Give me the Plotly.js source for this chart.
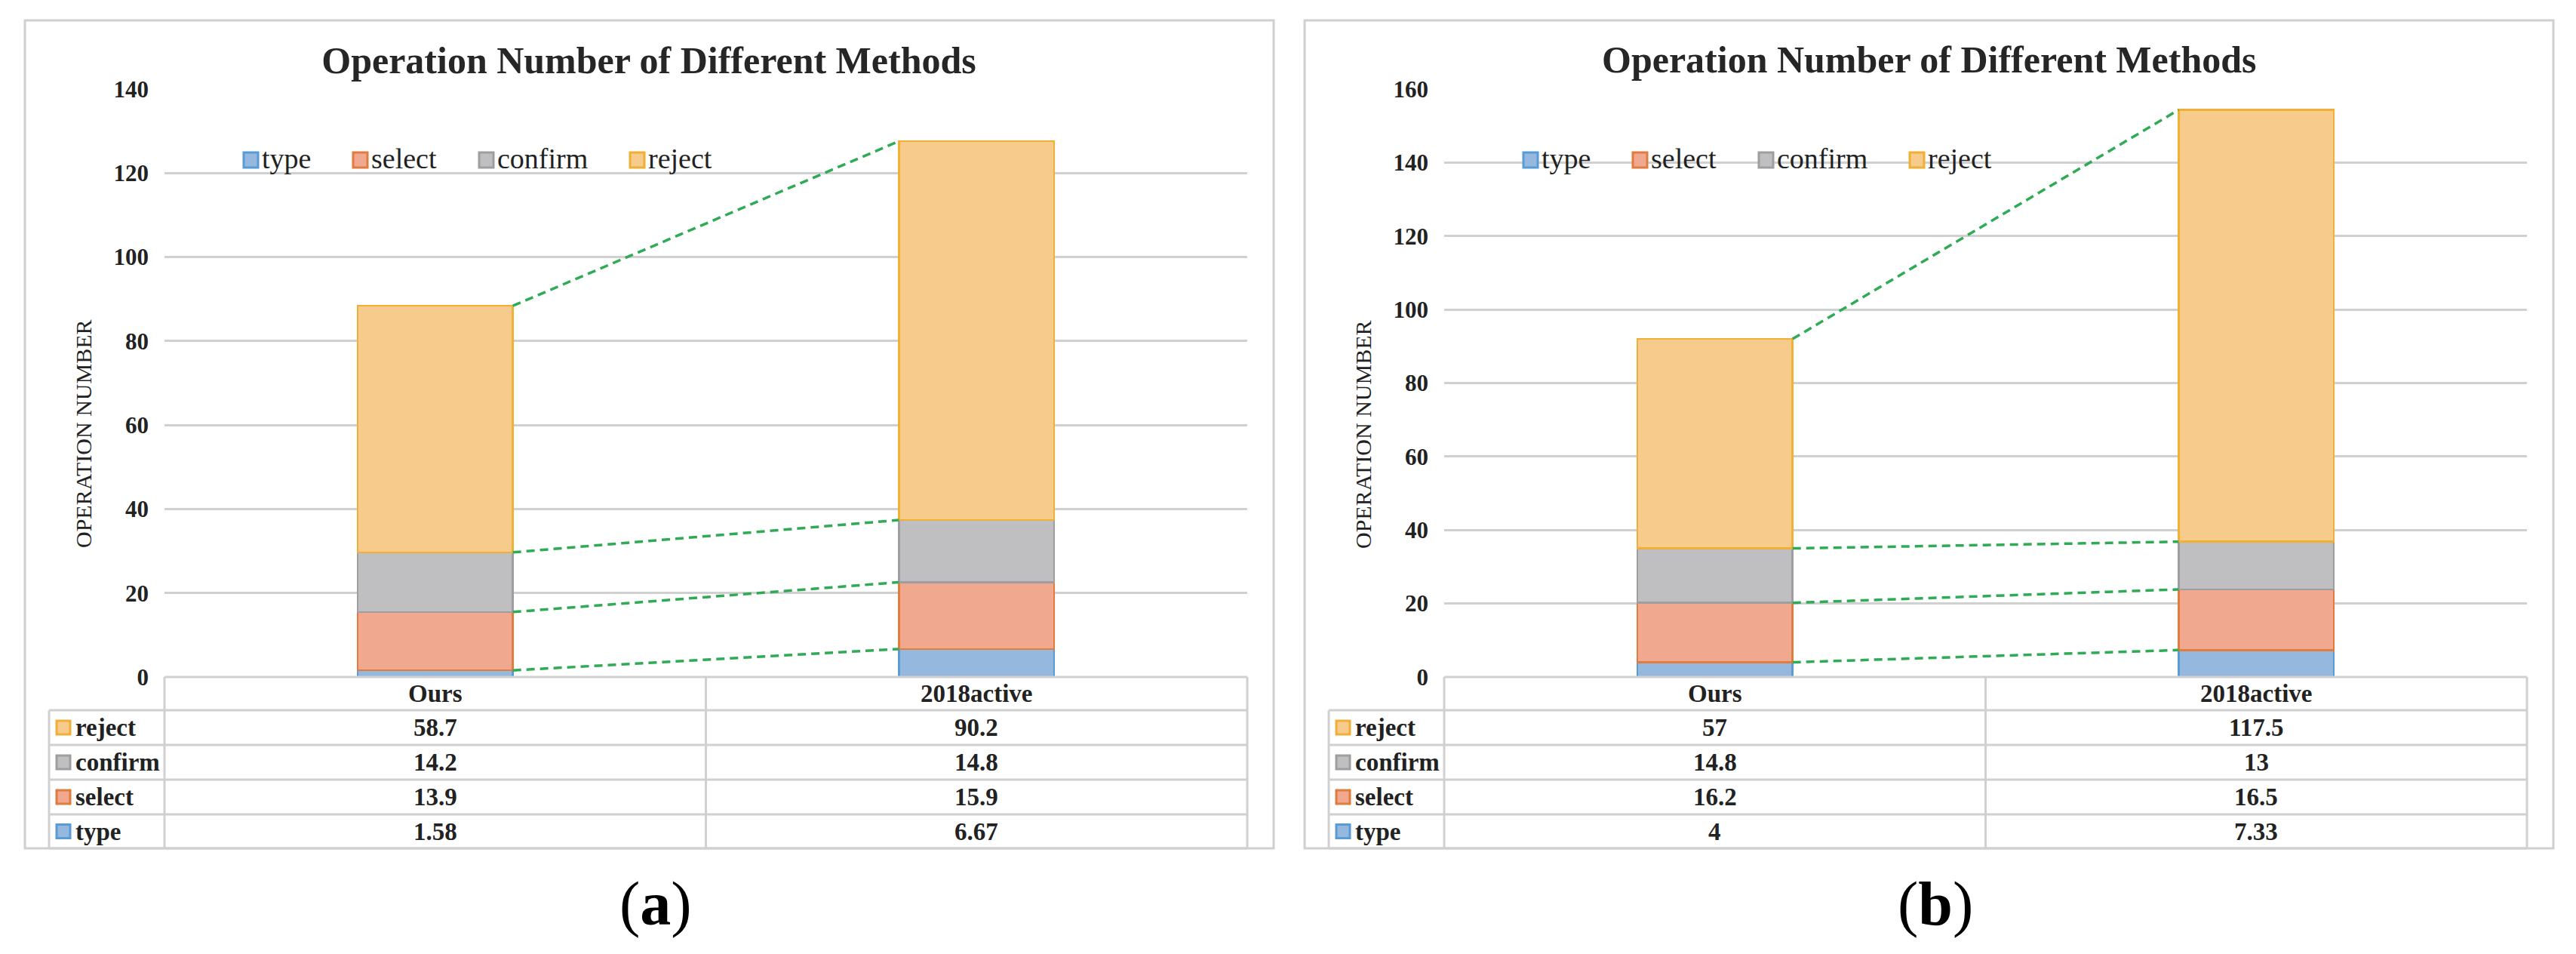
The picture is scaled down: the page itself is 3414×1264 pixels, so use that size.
<!DOCTYPE html>
<html><head><meta charset="utf-8">
<script src="https://cdn.plot.ly/plotly-3.0.1.min.js"></script>
<style>html,body{margin:0;padding:0;background:#fff}#chart{width:3414px;height:1264px}</style>
</head><body><div id="chart"></div>
<script>
// ---------- data ----------
const categories = ['Ours', '2018active'];
const seriesNames = ['type', 'select', 'confirm', 'reject'];
const typeA = [1.58, 6.67];
const selectA = [13.9, 15.9];
const confirmA = [14.2, 14.8];
const rejectA = [58.7, 90.2];
const typeB = [4, 7.33];
const selectB = [16.2, 16.5];
const confirmB = [14.8, 13];
const rejectB = [57, 117.5];
const yTicksA = [0, 20, 40, 60, 80, 100, 120, 140];
const yTicksB = [0, 20, 40, 60, 80, 100, 120, 140, 160];
const titleText = 'Operation Number of Different Methods';
const yTitleText = 'OPERATION NUMBER';
const panelLabels = ['(<b>a</b>)', '(<b>b</b>)'];

// ---------- style ----------
const W = 3414, H = 1264;
const px = v => v / W, py = v => 1 - v / H;
const FILL = {type: '#95b8df', select: '#f0a98f', confirm: '#bfbfc1', reject: '#f7cb8b'};
const EDGE = {type: '#5b9bd5', select: '#e27b3e', confirm: '#9e9ea0', reject: '#efb035'};
const SERIF = 'Liberation Serif, Times New Roman, Times, serif';
const TXT = '#222222';
const GRID = '#d0d0d0';
const GREEN = '#2faa55';
const BARGAP = 0.713;
const BW = 1 - BARGAP;

const panels = [
  {x0: 33, xa: 'x', ya: 'y', series: [typeA, selectA, confirmA, rejectA], ticks: yTicksA, label: panelLabels[0]},
  {x0: 1729, xa: 'x2', ya: 'y2', series: [typeB, selectB, confirmB, rejectB], ticks: yTicksB, label: panelLabels[1]}
];

const rowsY = [897, 941, 987, 1033, 1079, 1124];  // table row borders (px)
const legendOffsets = [105, 250, 417, 617];

const traces = [], shapes = [], annotations = [];
const layout = {
  width: W, height: H, margin: {l: 0, r: 0, t: 0, b: 0, pad: 0},
  paper_bgcolor: '#ffffff', plot_bgcolor: 'rgba(0,0,0,0)',
  barmode: 'stack', bargap: BARGAP, showlegend: false,
  font: {family: SERIF, color: TXT},
  title: {text: titleText, font: {family: SERIF, size: 50, weight: 'bold', color: '#262626'},
          xref: 'paper', yref: 'paper', x: px(860), y: py(79), xanchor: 'center', yanchor: 'middle'}
};

panels.forEach((p, pi) => {
  const plotL = p.x0 + 185, plotR = p.x0 + 1620, mid = plotL + (plotR - plotL) / 2;
  const xs = categories.map((c, i) => i);
  const axSuffix = pi === 0 ? '' : '2';
  layout['xaxis' + axSuffix] = {
    domain: [px(plotL), px(plotR)], range: [-0.5, 1.5], anchor: p.ya,
    showgrid: false, zeroline: false, showline: false, showticklabels: false, ticks: '', fixedrange: true
  };
  layout['yaxis' + axSuffix] = {
    domain: [py(897), py(118)], range: [0, p.ticks[p.ticks.length - 1]], anchor: p.xa,
    tickvals: p.ticks, ticktext: p.ticks.map(String),
    showgrid: true, gridcolor: GRID, gridwidth: 3, zeroline: false, showline: false, ticks: '',
    ticklabelstandoff: 20,
    tickfont: {family: SERIF, size: 31, weight: 'bold', color: TXT}, fixedrange: true
  };

  // stacked bars
  const cum = categories.map(() => 0);
  const bounds = [];
  p.series.forEach((vals, si) => {
    const name = seriesNames[si];
    traces.push({
      type: 'bar', name: name, x: xs, y: vals, xaxis: p.xa, yaxis: p.ya,
      marker: {color: FILL[name], line: {color: EDGE[name], width: 2.5}},
      hovertext: categories, showlegend: false
    });
    vals.forEach((v, ci) => { cum[ci] += v; });
    bounds.push(cum.slice());
  });
  // dashed connectors between the stacked boundaries
  bounds.forEach(b => {
    traces.push({
      type: 'scatter', mode: 'lines', x: [xs[0] + BW / 2, xs[1] - BW / 2], y: [b[0], b[1]],
      xaxis: p.xa, yaxis: p.ya, showlegend: false, hoverinfo: 'skip',
      line: {color: GREEN, width: 3.5, dash: '11px,7px'}
    });
  });

  // outer border
  shapes.push({type: 'rect', xref: 'paper', yref: 'paper', x0: px(p.x0), x1: px(p.x0 + 1655), y0: py(1124), y1: py(27),
               line: {color: GRID, width: 3}, fillcolor: 'rgba(0,0,0,0)'});

  // titles
  if (pi === 1) {
    annotations.push({text: titleText, xref: 'paper', yref: 'paper', x: px(p.x0 + 827), y: py(79),
      xanchor: 'center', yanchor: 'middle', showarrow: false,
      font: {family: SERIF, size: 50, weight: 'bold', color: '#262626'}});
  }
  annotations.push({text: yTitleText, xref: 'paper', yref: 'paper', x: px(p.x0 + 77), y: py(575),
    xanchor: 'center', yanchor: 'middle', textangle: -90, showarrow: false,
    font: {family: SERIF, size: 30, color: TXT}});

  // top legend
  seriesNames.forEach((name, si) => {
    const lx = plotL + legendOffsets[si];
    shapes.push({type: 'rect', xref: 'paper', yref: 'paper', x0: px(lx), x1: px(lx + 19), y0: py(222), y1: py(202),
                 line: {color: EDGE[name], width: 3}, fillcolor: FILL[name]});
    annotations.push({text: name, xref: 'paper', yref: 'paper', x: px(lx + 22), y: py(210),
      xanchor: 'left', yanchor: 'middle', showarrow: false,
      font: {family: SERIF, size: 38, color: TXT}});
  });

  // table grid
  const hl = (y, xa, xb) => shapes.push({type: 'line', xref: 'paper', yref: 'paper', x0: px(xa), x1: px(xb), y0: py(y), y1: py(y), line: {color: GRID, width: 3}});
  const vl = (x, ya, yb) => shapes.push({type: 'line', xref: 'paper', yref: 'paper', x0: px(x), x1: px(x), y0: py(ya), y1: py(yb), line: {color: GRID, width: 3}});
  const legL = p.x0 + 32;
  hl(rowsY[0], plotL, plotR);
  for (let r = 1; r < rowsY.length; r++) hl(rowsY[r], legL, plotR);
  vl(plotL, rowsY[0], rowsY[5]);
  vl(mid, rowsY[0], rowsY[5]);
  vl(plotR, rowsY[0], rowsY[5]);
  vl(legL, rowsY[1], rowsY[5]);

  // header
  const cellFont = {family: SERIF, size: 33, weight: 'bold', color: TXT};
  categories.forEach((c, ci) => {
    annotations.push({text: c, xref: p.xa, yref: 'paper', x: xs[ci], y: py((rowsY[0] + rowsY[1]) / 2),
      xanchor: 'center', yanchor: 'middle', showarrow: false, font: cellFont});
  });
  // rows (top: reject ... bottom: type)
  const order = [3, 2, 1, 0];
  order.forEach((si, r) => {
    const name = seriesNames[si];
    const yc = (rowsY[r + 1] + rowsY[r + 2]) / 2;
    shapes.push({type: 'rect', xref: 'paper', yref: 'paper', x0: px(legL + 10), x1: px(legL + 28), y0: py(yc + 9), y1: py(yc - 9),
                 line: {color: EDGE[name], width: 3}, fillcolor: FILL[name]});
    annotations.push({text: name, xref: 'paper', yref: 'paper', x: px(legL + 33), y: py(yc),
      xanchor: 'left', yanchor: 'middle', showarrow: false, font: cellFont});
    p.series[si].forEach((v, ci) => {
      annotations.push({text: String(v), xref: p.xa, yref: 'paper', x: xs[ci], y: py(yc),
        xanchor: 'center', yanchor: 'middle', showarrow: false, font: cellFont});
    });
  });

  // panel label
  annotations.push({text: p.label, xref: 'paper', yref: 'paper', x: px(p.x0 + 836), y: py(1197),
    xanchor: 'center', yanchor: 'middle', showarrow: false,
    font: {family: SERIF, size: 82, color: '#000000'}});
});

layout.shapes = shapes;
layout.annotations = annotations;
Plotly.newPlot('chart', traces, layout, {displayModeBar: false, staticPlot: true});
</script>
</body></html>
